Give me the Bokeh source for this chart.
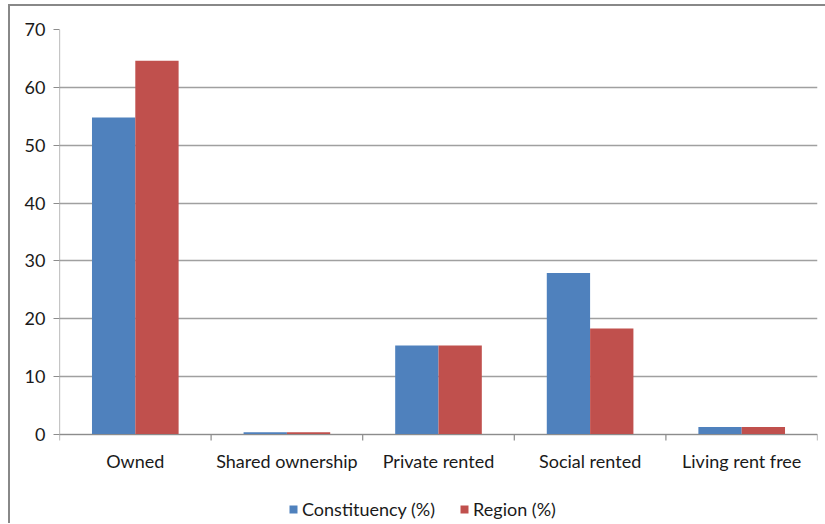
from bokeh.plotting import figure
from bokeh.models import ColumnDataSource, Range1d, FixedTicker, Legend, LegendItem
from bokeh.core.properties import value
from bokeh.embed import file_html
from bokeh.resources import INLINE

categories = ["Owned", "Shared ownership", "Private rented", "Social rented", "Living rent free"]
constituency = [54.8, 0.4, 15.4, 27.9, 1.3]
region = [64.6, 0.4, 15.4, 18.3, 1.3]
series_names = ["Constituency (%)", "Region (%)"]
y_ticks = [0, 10, 20, 30, 40, 50, 60, 70]

BLUE = "#4F81BD"
RED = "#C0504D"
GRID = "#A0A0A0"
AXIS = "#8C8C8C"
FONT = "Lato"

n = len(categories)
centers = [i + 0.5 for i in range(n)]
bar_w = 1 / 3.5

# plot area: 405 px for 0..70, extended 84 px below zero to hold labels + legend
Y_MAX = 70
PX_PER_UNIT = 405 / Y_MAX
Y_MIN = -89 / PX_PER_UNIT
TICK = 6 / PX_PER_UNIT

src = ColumnDataSource(dict(
    x_c=[c - bar_w / 2 for c in centers],
    x_r=[c + bar_w / 2 for c in centers],
    con=constituency,
    reg=region,
))
lab_src = ColumnDataSource(dict(x=centers, y=[0] * n, text=categories))

p = figure(
    frame_width=758, frame_height=494,
    x_range=Range1d(0, n), y_range=Range1d(Y_MIN, Y_MAX),
    output_backend="svg", toolbar_location=None, x_axis_location=None,
    min_border_left=49, min_border_top=23, min_border_right=8, min_border_bottom=0,
)
p.styles = {"border-left": "2px solid #888888", "border-top": "2px solid #888888",
            "margin-left": "8px", "margin-top": "4px"}
p.outline_line_color = None
p.background_fill_color = "white"

p.xgrid.grid_line_color = None
p.ygrid.ticker = FixedTicker(ticks=y_ticks)
p.ygrid.grid_line_color = GRID
p.ygrid.grid_line_width = 1.5

r1 = p.vbar(x="x_c", top="con", width=bar_w, bottom=0, source=src, fill_color=BLUE, line_color=None)
r2 = p.vbar(x="x_r", top="reg", width=bar_w, bottom=0, source=src, fill_color=RED, line_color=None)

# category axis: line, boundary ticks, labels
p.segment(x0=0, y0=0, x1=n, y1=0, line_color=AXIS, line_width=1.2)
p.segment(x0=list(range(n + 1)), y0=0, x1=list(range(n + 1)), y1=-TICK,
          line_color=AXIS, line_width=1.2)
p.segment(x0=0, y0=0, x1=0, y1=Y_MAX, line_color=AXIS, line_width=1.2)
p.text(x="x", y="y", text="text", source=lab_src, y_offset=26,
       text_align="center", text_baseline="middle",
       text_font=value(FONT), text_font_size="18px", text_color="#1a1a1a")

# y axis
ya = p.yaxis[0]
ya.ticker = FixedTicker(ticks=y_ticks)
ya.major_tick_out = 6
ya.major_tick_in = 0
ya.minor_tick_line_color = None
ya.major_tick_line_color = AXIS
ya.axis_line_color = None
ya.major_label_text_font = FONT
ya.major_label_text_font_size = "18px"
ya.major_label_text_color = "#1a1a1a"
ya.major_label_standoff = 8

legend = Legend(
    items=[LegendItem(label=series_names[0], renderers=[r1]),
           LegendItem(label=series_names[1], renderers=[r2])],
    orientation="horizontal",
    location=(229, 3),
    glyph_width=10, glyph_height=10,
    label_standoff=4, spacing=24,
    label_text_font=FONT, label_text_font_size="18px", label_text_color="#1a1a1a",
    border_line_color=None, background_fill_alpha=0,
    padding=4, margin=0,
)
p.add_layout(legend, "center")

open("out.html", "w").write(file_html(p, INLINE))
